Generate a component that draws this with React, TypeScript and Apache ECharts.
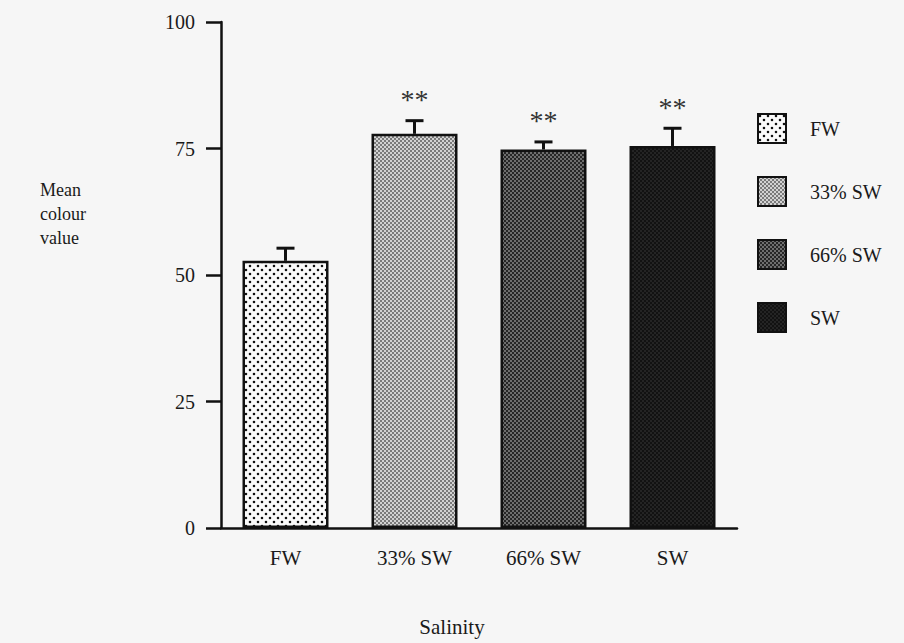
import React, { useEffect, useRef } from "react";
import * as echarts from "echarts";

const categories = ["FW", "33% SW", "66% SW", "SW"];
const means = [52.8, 77.9, 74.8, 75.5];
const errors = [2.5, 2.6, 1.5, 3.5];
const significance = ["", "**", "**", "**"];
const yTicks = [0, 25, 50, 75, 100];

const FONT = "Liberation Serif";
const TEXT = "#1a1a1a";

function makePattern(kind: number) {
  const size = kind === 0 ? 8 : 4;
  const c = document.createElement("canvas");
  c.width = size;
  c.height = size;
  const ctx = c.getContext("2d")!;
  if (kind === 0) {
    ctx.fillStyle = "#fafafa";
    ctx.fillRect(0, 0, size, size);
    ctx.fillStyle = "#111";
    ctx.beginPath();
    ctx.arc(2, 2, 1.3, 0, Math.PI * 2);
    ctx.arc(6, 6, 1.3, 0, Math.PI * 2);
    ctx.fill();
  } else {
    const bg = kind === 1 ? "#d2d2d2" : kind === 2 ? "#6e6e6e" : "#242424";
    const fg = kind === 1 ? "#7a7a7a" : kind === 2 ? "#262626" : "#121212";
    ctx.fillStyle = bg;
    ctx.fillRect(0, 0, size, size);
    ctx.fillStyle = fg;
    ctx.fillRect(0, 0, 2, 2);
    ctx.fillRect(2, 2, 2, 2);
  }
  return { image: c, repeat: "repeat", imageWidth: size, imageHeight: size } as any;
}

export default function App() {
  const ref = useRef<HTMLDivElement>(null);
  useEffect(() => {
    if (!ref.current) return;
    const chart = echarts.init(ref.current, null, { renderer: "svg" });
    const barSeries = categories.map((name, i) => ({
      name,
      type: "bar",
      barWidth: 86,
      barGap: "-100%",
      data: categories.map((_, j) => (j === i ? means[j] : "-")),
      itemStyle: {
        color: makePattern(i),
        borderColor: "#111",
        borderWidth: 2.5,
      },
      z: 2,
    }));
    const option: any = {
      animation: false,
      backgroundColor: "#f6f6f6",
      textStyle: { fontFamily: FONT },
      grid: { left: 221, right: 167, top: 22, bottom: 115, containLabel: false },
      legend: {
        orient: "vertical",
        left: 757,
        top: 113,
        padding: 0,
        icon: "rect",
        itemWidth: 28,
        itemHeight: 29,
        itemGap: 32,
        data: categories,
        selectedMode: false,
        textStyle: { fontFamily: FONT, fontSize: 20, color: TEXT, padding: [0, 0, 0, 19] },
      },
      xAxis: {
        type: "category",
        data: categories,
        axisLine: { lineStyle: { color: "#111", width: 2.5 } },
        axisTick: { alignWithLabel: true, length: 15, lineStyle: { color: "#111", width: 2.5 } },
        axisLabel: { fontFamily: FONT, fontSize: 21, color: TEXT, margin: 19 },
      },
      yAxis: {
        type: "value",
        min: 0,
        max: 100,
        interval: 25,
        axisLine: { show: true, lineStyle: { color: "#111", width: 2.5 } },
        axisTick: { show: true, length: 15, lineStyle: { color: "#111", width: 2.5 } },
        splitLine: { show: false },
        axisLabel: {
          fontFamily: FONT,
          fontSize: 20,
          color: TEXT,
          margin: 26,
          formatter: (v: number) => (yTicks.includes(v) ? String(v) : ""),
        },
      },
      graphic: [
        {
          type: "text",
          left: 40,
          top: 178,
          style: {
            text: "Mean\ncolour\nvalue",
            font: `18px '${FONT}'`,
            fill: TEXT,
            lineHeight: 24,
          },
        },
        {
          type: "text",
          x: 452,
          y: 627,
          style: {
            text: "Salinity",
            font: `21px '${FONT}'`,
            fill: TEXT,
            align: "center",
            verticalAlign: "middle",
          },
        },
      ],
      series: [
        ...barSeries,
        {
          type: "custom",
          name: "err",
          z: 3,
          data: categories.map((_, i) => [i, means[i], errors[i]]),
          renderItem: (params: any, api: any) => {
            const idx = api.value(0);
            const m = api.value(1);
            const e = api.value(2);
            const p0 = api.coord([idx, m]);
            const p1 = api.coord([idx, m + e]);
            const style = { stroke: "#111", lineWidth: 3 };
            const sig = significance[params.dataIndex];
            const children: any[] = [
              { type: "line", shape: { x1: p0[0], y1: p0[1], x2: p1[0], y2: p1[1] }, style },
              { type: "line", shape: { x1: p1[0] - 9, y1: p1[1], x2: p1[0] + 9, y2: p1[1] }, style },
            ];
            if (sig) {
              children.push({
                type: "text",
                x: p1[0],
                y: p1[1] - 21,
                style: {
                  text: sig,
                  font: `28px '${FONT}'`,
                  fill: "#333",
                  align: "center",
                  verticalAlign: "middle",
                },
              });
            }
            return { type: "group", children };
          },
        },
      ],
    };
    chart.setOption(option);
    return () => chart.dispose();
  }, []);
  return (
    <div
      ref={ref}
      style={{ position: "fixed", left: 0, top: 0, width: 904, height: 643 }}
    />
  );
}
